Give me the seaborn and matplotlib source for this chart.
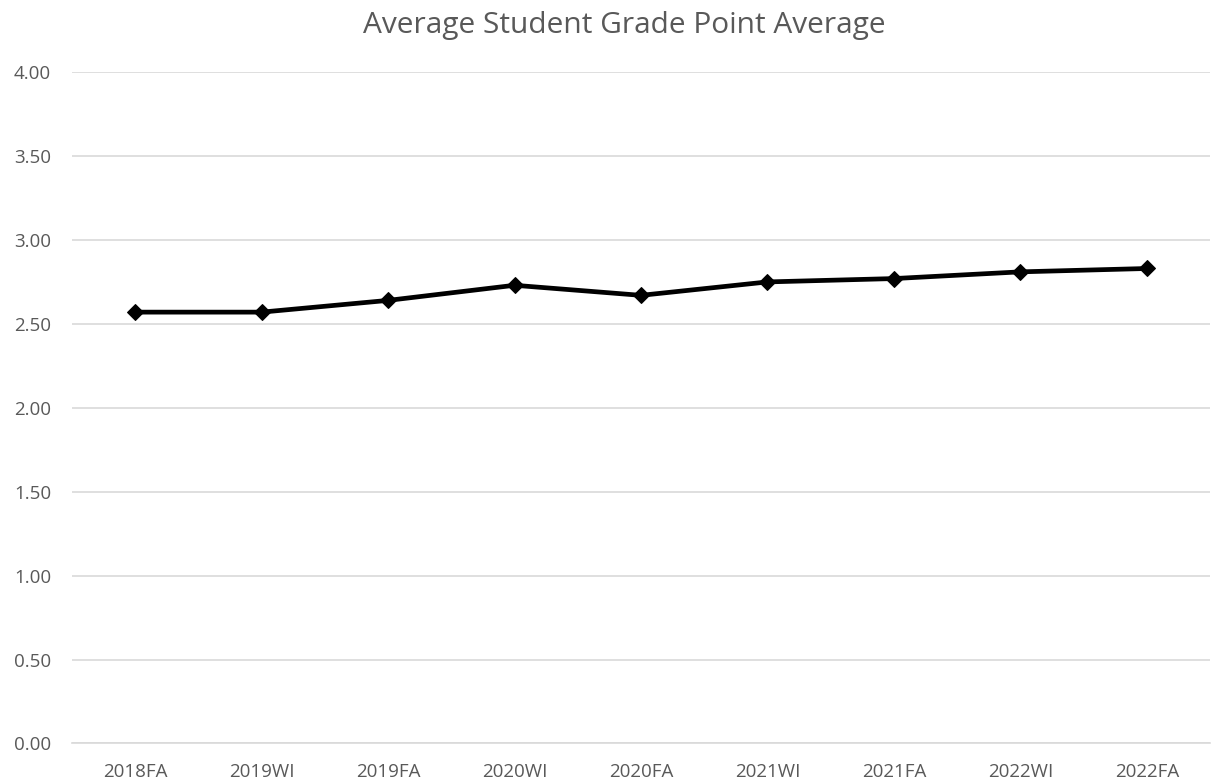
import pandas as pd
import matplotlib.pyplot as plt
import seaborn as sns

terms = ['2018FA', '2019WI', '2019FA', '2020WI', '2020FA', '2021WI', '2021FA', '2022WI', '2022FA']
gpa = [2.57, 2.57, 2.64, 2.73, 2.67, 2.75, 2.77, 2.81, 2.83]
yticks = [0.0, 0.5, 1.0, 1.5, 2.0, 2.5, 3.0, 3.5, 4.0]

data = pd.DataFrame({'Term': terms, 'GPA': gpa})

sns.set_style('white')
plt.rcParams['font.family'] = ['Open Sans', 'DejaVu Sans']

fig = plt.figure(figsize=(12.24, 7.84), dpi=100)
ax = fig.add_axes([0.0588, 0.0517, 0.9298, 0.8563])

sns.lineplot(data=data, x='Term', y='GPA', ax=ax, color='black', linewidth=3.4,
             marker='D', markersize=8.5, markeredgecolor='black', sort=False)

ax.set_xlim(-0.5, len(terms) - 0.5)
ax.set_ylim(0, 4)
ax.set_yticks(yticks)
ax.set_yticklabels([f'{v:.2f}' for v in yticks])
ax.yaxis.grid(True, color='#d9d9d9', linewidth=1.2)
ax.set_axisbelow(True)
for s in ['top', 'right', 'left']:
    ax.spines[s].set_visible(False)
ax.spines['bottom'].set_color('#d9d9d9')
ax.spines['bottom'].set_linewidth(1.2)
ax.tick_params(axis='both', length=0, labelsize=13.5, labelcolor='#595959')
ax.tick_params(axis='y', pad=15)
ax.tick_params(axis='x', pad=14)
ax.set_xlabel('')
ax.set_ylabel('')
fig.text(0.51, 0.968, 'Average Student Grade Point Average', ha='center', va='center',
         fontsize=21.5, color='#595959')

fig.savefig('out.png', dpi=100)
